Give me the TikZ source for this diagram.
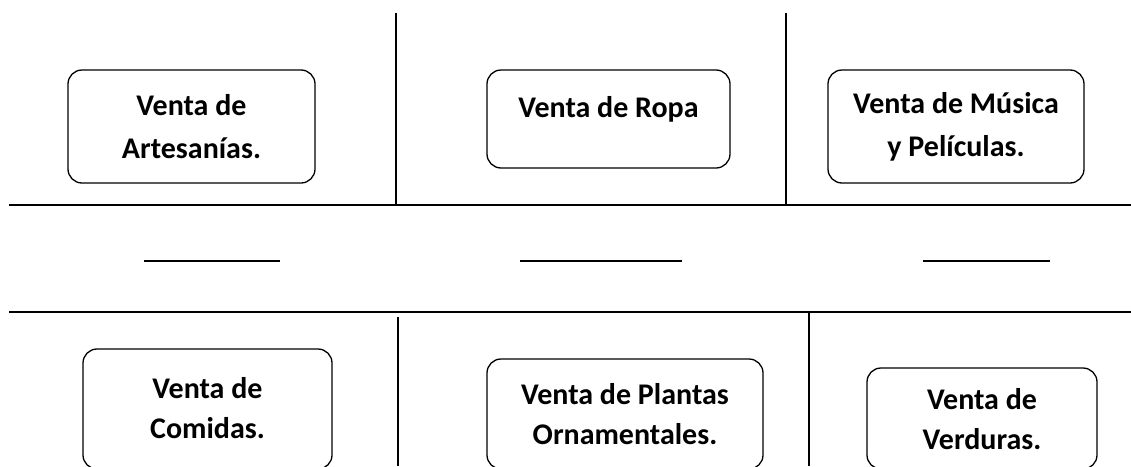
\documentclass[tikz,border=0pt]{standalone}
\usepackage{fontspec}
\setmainfont{Carlito}
\usepackage{tikz}
\usetikzlibrary{positioning}

\begin{document}
\begin{tikzpicture}[
    x=1pt, y=-1pt,
    stall/.style={draw, rounded corners=14pt, line width=1.3pt, align=center,
                  inner sep=0pt, font=\bfseries\fontsize{30}{43}\selectfont},
    lowstall/.style={stall, font=\bfseries\fontsize{30}{40}\selectfont},
    divider/.style={line width=1.6pt},
]
\useasboundingbox (0,0) rectangle (1131,466);

% upper row
\node[stall, minimum width=247pt, minimum height=113pt] (artesanias) at (191.5,126.5) {Venta de\\Artesanías.};
\node[stall, minimum width=243pt, minimum height=98pt, text depth=24pt] (ropa) at (608.5,119) {Venta de Ropa};
\node[stall, minimum width=256pt, minimum height=113pt] (musica) at (956,126.5) {Venta de Música\\y Películas.};

% lower row
\node[lowstall, minimum width=249pt, minimum height=120pt, text depth=3pt] (comidas) at (207.5,409) {Venta de\\Comidas.};
\node[lowstall, minimum width=276pt, minimum height=110pt, text depth=1pt] (plantas) at (625,414) {Venta de Plantas\\Ornamentales.};
\node[lowstall, minimum width=230pt, minimum height=101pt, text depth=-14pt] (verduras) at (982,418.5) {Venta de\\Verduras.};

% street lines
\draw[divider] (9,205) -- (1131,205);
\draw[divider] (9,312) -- (1131,312);
\draw[divider] (396,13) -- (396,205);
\draw[divider] (786,13) -- (786,205);
\draw[divider] (398,317) -- (398,466);
\draw[divider] (809,312) -- (809,466);

% blanks
\draw[divider] (144,261) -- (280,261);
\draw[divider] (520,261) -- (682,261);
\draw[divider] (923,261) -- (1050,261);
\end{tikzpicture}
\end{document}
